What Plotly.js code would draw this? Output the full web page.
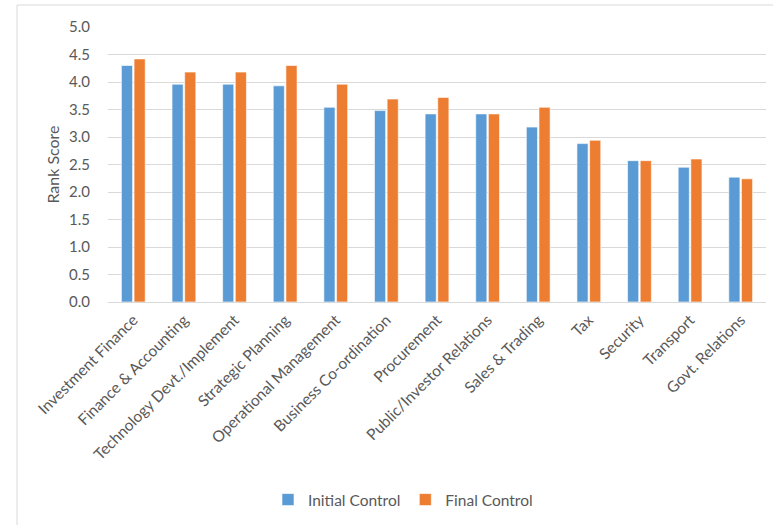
<!DOCTYPE html>
<html>
<head>
<meta charset="utf-8">
<script src="https://cdn.plot.ly/plotly-3.0.1.min.js"></script>
<style>html,body{margin:0;padding:0;background:#fff;}#chart{width:773px;height:525px;}</style>
</head>
<body>
<div id="chart"></div>
<script>
const categories = ["Investment Finance","Finance & Accounting","Technology Devt./Implement","Strategic Planning","Operational Management","Business Co-ordination","Procurement","Public/Investor Relations","Sales & Trading","Tax","Security","Transport","Govt. Relations"];
const initialControl = [4.30, 3.96, 3.96, 3.93, 3.54, 3.48, 3.42, 3.42, 3.18, 2.88, 2.57, 2.45, 2.27];
const finalControl   = [4.42, 4.18, 4.18, 4.30, 3.96, 3.69, 3.72, 3.42, 3.54, 2.94, 2.57, 2.60, 2.24];
const yTicks = [0,0.5,1,1.5,2,2.5,3,3.5,4,4.5,5];

const font = {family: "Lato, 'Open Sans', sans-serif", color: "#595959"};
const traces = [
  {type:"bar", name:"Initial Control", x:categories, y:initialControl,
   marker:{color:"#5B9BD5", line:{color:"#ffffff", width:0.6}}},
  {type:"bar", name:"Final Control", x:categories, y:finalControl,
   marker:{color:"#ED7D31", line:{color:"#ffffff", width:0.6}}}
];
const W = 658, H = 275; // plot area size
const px = v => (v - 108) / W;
const py = v => (302 - v) / H;
const layout = {
  width:773, height:525,
  margin:{l:108, r:7, t:27, b:223},
  paper_bgcolor:"#ffffff", plot_bgcolor:"#ffffff",
  font:font,
  barmode:"group", bargap:0.5, bargroupgap:0.12,
  showlegend:true,
  legend:{orientation:"h", x:px(403), xanchor:"center", y:py(500), yanchor:"middle",
          font:{family:font.family, size:15.5, color:"#595959"}, itemwidth:30, traceorder:"normal"},
  xaxis:{tickangle:-45, tickfont:{family:font.family, size:15.5, color:"#595959"},
         showgrid:false, showline:true, linecolor:"#D9D9D9", linewidth:1,
         ticks:"outside", ticklen:2, tickcolor:"rgba(0,0,0,0)", automargin:false},
  yaxis:{range:[0,5], tickvals:yTicks, tickformat:".1f", tickfont:{family:font.family, size:15, color:"#595959"},
         showgrid:true, gridcolor:"#D9D9D9", gridwidth:1, zeroline:false, showline:false,
         ticks:"outside", ticklen:14, tickcolor:"rgba(0,0,0,0)", automargin:false,
         title:{text:"Rank Score", font:{family:font.family, size:16, color:"#595959"}, standoff:5}},
  shapes:[
    {type:"line", xref:"paper", yref:"paper", x0:px(17), x1:px(17), y0:py(525), y1:py(5), line:{color:"#D9D9D9", width:1}},
    {type:"line", xref:"paper", yref:"paper", x0:px(17), x1:px(773), y0:py(5), y1:py(5), line:{color:"#D9D9D9", width:1}}
  ]
};
Plotly.newPlot("chart", traces, layout, {displayModeBar:false, staticPlot:true});
</script>
</body>
</html>
